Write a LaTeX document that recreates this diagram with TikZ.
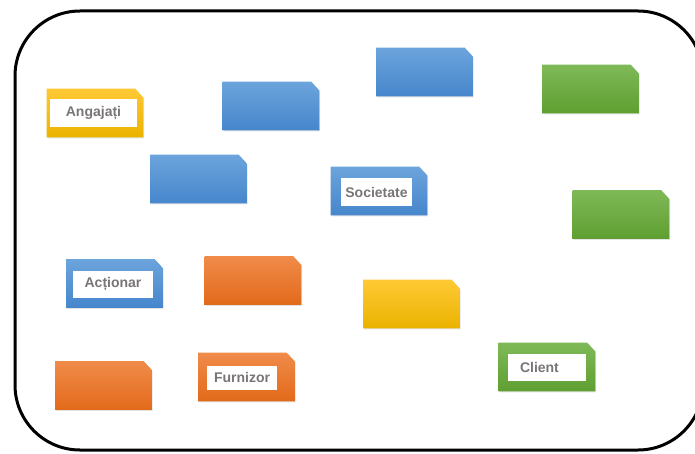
\documentclass[tikz,border=0pt]{standalone}
\usepackage{fontspec}
\setmainfont{Liberation Sans}
\usepackage{xcolor}
\usepackage{tikz}
\usetikzlibrary{shadows}

\definecolor{blueTop}{HTML}{6CA4DC}
\definecolor{blueBot}{HTML}{4686CC}
\definecolor{greenTop}{HTML}{7EB957}
\definecolor{greenBot}{HTML}{5F9F31}
\definecolor{orangeTop}{HTML}{F08B4A}
\definecolor{orangeBot}{HTML}{E26A1A}
\definecolor{yellowTop}{HTML}{FFC935}
\definecolor{yellowBot}{HTML}{EAB300}
\definecolor{txtgray}{HTML}{7A7575}

% shaded card with snipped north east corner, over node #1
\newcommand{\cardshade}[2]{%
  \shade[top color=#2Top,bottom color=#2Bot,
         drop shadow={opacity=0.22,shadow xshift=0.6pt,shadow yshift=-0.9pt}]
    (#1.south west) -- (#1.north west) -- ([xshift=-6pt]#1.north east)
    -- ([yshift=-6.5pt]#1.north east) -- (#1.south east) -- cycle;}

\begin{document}
\begin{tikzpicture}[
  x=0.75pt,y=-0.75pt,
  card/.style={minimum width=72pt,minimum height=36pt,inner sep=0pt},
  lbl/.style={fill=white,inner sep=0pt,text=txtgray,
              font=\bfseries\fontsize{10.5}{12}\selectfont},
  frame/.style={draw=black,line width=2.25pt,rounded corners=48.75pt}
]
\useasboundingbox (0,0) rectangle (695,453);
\clip (0,0) rectangle (695,453);
\fill[white] (0,0) rectangle (695,453);
\draw[frame] (15,11) rectangle (703,450);

% first row
\node[card] (angajati) at (95,113) {};
\node[card] (blueA) at (271,106) {};
\node[card] (blueB) at (424.5,72) {};
\node[card] (greenA) at (590.5,89) {};
% second row
\node[card] (blueC) at (198.5,179) {};
\node[card] (societate) at (379,191) {};
\node[card] (greenB) at (621,214.5) {};
% third row
\node[card] (actionar) at (114.5,283.5) {};
\node[card] (orangeA) at (253,280.5) {};
\node[card] (yellowA) at (411.5,304) {};
% last row
\node[card] (orangeB) at (103.5,385.5) {};
\node[card] (furnizor) at (246.5,377) {};
\node[card] (client) at (547,367) {};

\cardshade{angajati}{yellow}
\cardshade{blueA}{blue}
\cardshade{blueB}{blue}
\cardshade{greenA}{green}
\cardshade{blueC}{blue}
\cardshade{societate}{blue}
\cardshade{greenB}{green}
\cardshade{actionar}{blue}
\cardshade{orangeA}{orange}
\cardshade{yellowA}{yellow}
\cardshade{orangeB}{orange}
\cardshade{furnizor}{orange}
\cardshade{client}{green}

% white labels
\node[lbl,minimum width=65.25pt,minimum height=21pt] (angajatiT) at (93.5,113) {Angajați};
\node[lbl,minimum width=53.25pt,minimum height=21pt] (societateT) at (376.5,192) {Societate};
\node[lbl,minimum width=60pt,minimum height=20.25pt] (actionarT) at (113,284.5) {Acționar};
\node[lbl,minimum width=52.5pt,minimum height=18pt] (furnizorT) at (242,377.5) {Furnizor};
\node[lbl,text width=40.5pt,inner xsep=9pt,align=left,minimum height=20.25pt] (clientT) at (547,367.5) {Client};
\end{tikzpicture}
\end{document}
